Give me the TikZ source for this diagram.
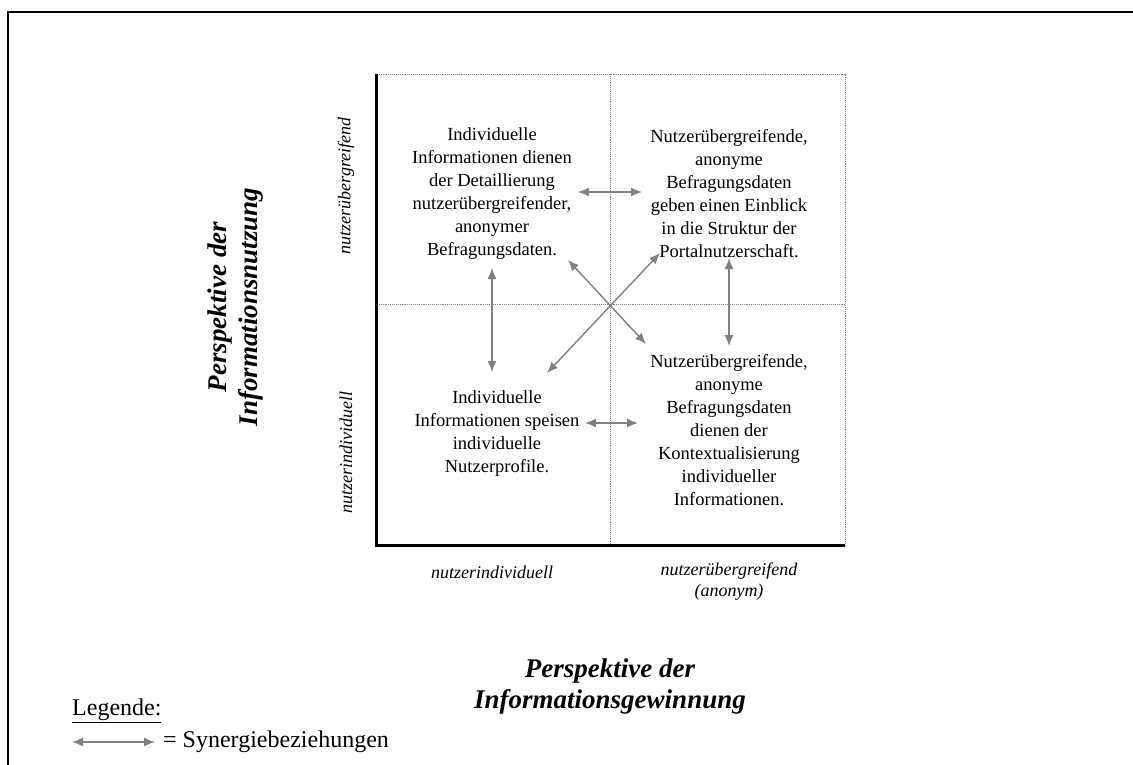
\documentclass[tikz,border=0pt]{standalone}
\usepackage{fontspec}
\setmainfont{Liberation Serif}
\usetikzlibrary{arrows.meta}
\definecolor{syngray}{RGB}{128,128,128}
\tikzset{
  quadtext/.style={align=center, font=\fontsize{18.5}{23}\selectfont, inner sep=0pt},
  axislabel/.style={font=\fontsize{18}{21}\selectfont\itshape, align=center, inner sep=0pt},
  perspective/.style={font=\fontsize{27}{31}\selectfont\bfseries\itshape, align=center, inner sep=0pt},
  legendtext/.style={font=\fontsize{24}{26}\selectfont, inner sep=0pt},
  synergy/.style={<->, draw=syngray, line width=1.4pt},
  grid/.style={densely dotted, draw=gray, line width=0.9pt}
}
\begin{document}
\begin{tikzpicture}[x=1pt, y=-1pt, >={Latex[length=11pt,width=9pt]}]
            \useasboundingbox (0,0) rectangle (1133,765);
            % outer frame
            \draw[line width=2pt] (8,775) -- (8,12) -- (1140,12);

            % quadrants
            \draw[grid] (375,74) -- (845,74) -- (845,545);
            \draw[grid] (610,74) -- (610,545);
            \draw[grid] (375,304) -- (845,304);
            \draw[line width=3pt] (376,74) -- (376,545) -- (845,545);

            % texts in the quadrants
            \node[quadtext] (tl) at (492,194) {Individuelle\\Informationen dienen\\der Detaillierung\\nutzerübergreifender,\\anonymer\\Befragungsdaten.};
            \node[quadtext] (tr) at (729,194) {Nutzerübergreifende,\\anonyme\\Befragungsdaten\\geben einen Einblick\\in die Struktur der\\Portalnutzerschaft.};
            \node[quadtext] (bl) at (497,434) {Individuelle\\Informationen speisen\\individuelle\\Nutzerprofile.};
            \node[quadtext] (br) at (729,430) {Nutzerübergreifende,\\anonyme\\Befragungsdaten\\dienen der\\Kontextualisierung\\individueller\\Informationen.};

            % axis labels
            \node[axislabel, rotate=90] (ytop) at (346,186) {nutzerübergreifend};
            \node[axislabel, rotate=90] (ybot) at (346,453) {nutzerindividuell};
            \node[axislabel] (xleft) at (492,572) {nutzerindividuell};
            \node[axislabel] (xright) at (729,582) {nutzerübergreifend\\(anonym)};
            \node[perspective, rotate=90] (ytitle) at (236,307) {Perspektive der\\Informationsnutzung};
            \node[perspective] (xtitle) at (610,687) {Perspektive der\\Informationsgewinnung};

            % synergies
            \coordinate (tlE) at (578,192);
            \coordinate (trW) at (642,192);
            \coordinate (blE) at (585,423);
            \coordinate (brW) at (638,423);
            \coordinate (tlS) at (492,268);
            \coordinate (blN) at (492,372);
            \coordinate (trS) at (729,258);
            \coordinate (brN) at (729,346);
            \coordinate (tlSE) at (568,260);
            \coordinate (brNW) at (646,344);
            \coordinate (blNE) at (547,373);
            \coordinate (trSW) at (660,253);
            \draw[synergy] (tlE) -- (trW);
            \draw[synergy] (blE) -- (brW);
            \draw[synergy] (tlS) -- (blN);
            \draw[synergy] (trS) -- (brN);
            \draw[synergy] (tlSE) -- (brNW);
            \draw[synergy] (blNE) -- (trSW);

            % legend
            \node[legendtext, anchor=west] (legtitle) at (72,711) {\underline{Legende:}};
            \coordinate (legA) at (72,742);
            \coordinate (legB) at (155,742);
            \draw[synergy] (legA) -- (legB);
            \node[legendtext, anchor=west] (legtext) at (163,742) {= Synergiebeziehungen};
        \end{tikzpicture}
\end{document}
